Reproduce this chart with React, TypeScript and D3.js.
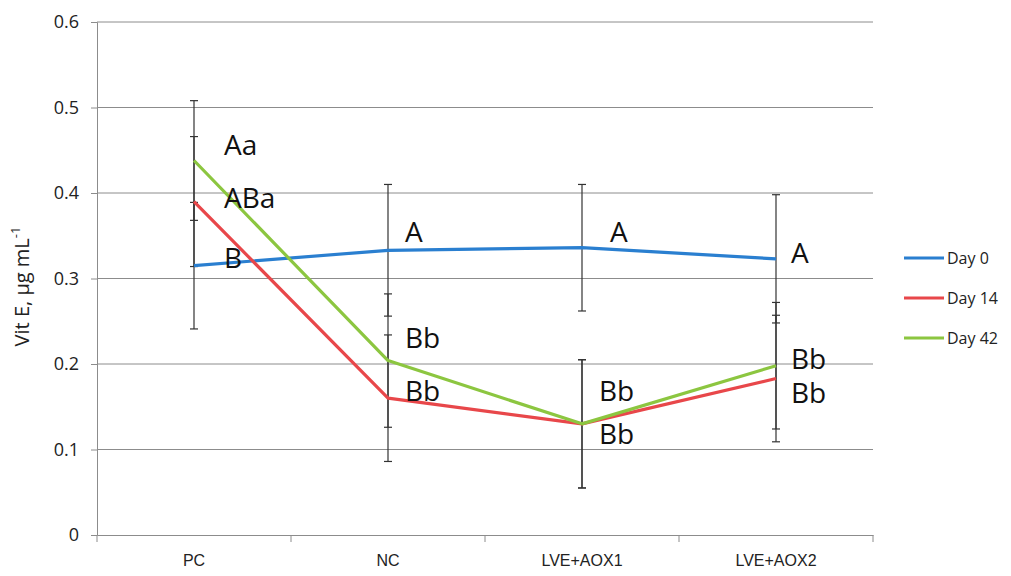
import { useEffect, useRef } from "react";
import * as d3 from "d3";

// categories and series
const categories = ["PC", "NC", "LVE+AOX1", "LVE+AOX2"];
const seriesNames = ["Day 0", "Day 14", "Day 42"];
const seriesColors = ["#2A7FD0", "#E8474A", "#8CC640"];
const day0 = [0.315, 0.333, 0.336, 0.323];
const day14 = [0.39, 0.16, 0.13, 0.183];
const day42 = [0.438, 0.204, 0.13, 0.198];
const err0 = [0.074, 0.077, 0.074, 0.075];
const err14 = [0.076, 0.074, 0.075, 0.074];
const err42 = [0.07, 0.078, 0.075, 0.074];
const yTicks = [0, 0.1, 0.2, 0.3, 0.4, 0.5, 0.6];

// significance letters: [text, category index, value at baseline]
const letters: [string, number, number][] = [
  ["Aa", 0, 0.445],
  ["ABa", 0, 0.383],
  ["B", 0, 0.312],
  ["A", 1, 0.343],
  ["Bb", 1, 0.219],
  ["Bb", 1, 0.157],
  ["A", 2, 0.343],
  ["Bb", 2, 0.157],
  ["Bb", 2, 0.107],
  ["A", 3, 0.318],
  ["Bb", 3, 0.194],
  ["Bb", 3, 0.154],
];
const letterDx = [30, 30, 30, 17, 17, 17, 28, 17, 17, 15, 15, 15];

const App = () => {
  const svgRef = useRef<SVGSVGElement | null>(null);

  useEffect(() => {
    const width = 1011;
    const height = 576;
    const margin = { top: 22, right: 138, bottom: 41, left: 97 };
    const svg = d3.select(svgRef.current);
    svg.selectAll("*").remove();

    const x = d3
      .scaleBand()
      .domain(categories)
      .range([margin.left, width - margin.right]);
    const y = d3
      .scaleLinear()
      .domain([0, 0.6])
      .range([height - margin.bottom, margin.top]);
    const cx = (i: number) => (x(categories[i]) as number) + x.bandwidth() / 2;

    const font = "'Open Sans', 'Noto Sans', sans-serif";
    const gridColor = "#8c8c8c";

    // gridlines
    svg
      .append("g")
      .selectAll("line")
      .data(yTicks.slice(1))
      .enter()
      .append("line")
      .attr("x1", margin.left)
      .attr("x2", width - margin.right)
      .attr("y1", (d) => y(d))
      .attr("y2", (d) => y(d))
      .attr("stroke", gridColor)
      .attr("stroke-width", 1);

    // y axis
    const yAxis = svg
      .append("g")
      .attr("transform", `translate(${margin.left},0)`)
      .call(
        d3
          .axisLeft(y)
          .tickValues(yTicks)
          .tickSize(6)
          .tickPadding(12)
          .tickFormat((d) => (d === 0 ? "0" : d3.format(".1f")(d as number)))
      );
    yAxis.select(".domain").attr("stroke", gridColor);
    yAxis.selectAll(".tick line").attr("stroke", gridColor);
    yAxis
      .selectAll("text")
      .attr("font-family", font)
      .attr("font-size", 18)
      .attr("fill", "#222");

    // x axis
    const xAxis = svg
      .append("g")
      .attr("transform", `translate(0,${height - margin.bottom})`)
      .call(d3.axisBottom(x).tickSize(0).tickPadding(20));
    xAxis.select(".domain").attr("stroke", gridColor);
    xAxis
      .selectAll("text")
      .attr("font-family", "'Liberation Sans Narrow', 'Liberation Sans', sans-serif")
      .attr("font-size", 16)
      .attr("fill", "#222");
    xAxis
      .selectAll(".sep")
      .data(d3.range(categories.length + 1))
      .enter()
      .append("line")
      .attr("x1", (i) => margin.left + i * x.bandwidth())
      .attr("x2", (i) => margin.left + i * x.bandwidth())
      .attr("y1", 0)
      .attr("y2", 7)
      .attr("stroke", gridColor);

    // y axis title
    const title = svg
      .append("text")
      .attr("transform", `translate(29,${(margin.top + height - margin.bottom) / 2 + 8}) rotate(-90)`)
      .attr("text-anchor", "middle")
      .attr("font-family", font)
      .attr("font-size", 20)
      .attr("fill", "#222");
    title.append("tspan").text("Vit E, µg mL");
    title.append("tspan").attr("dy", -9).attr("font-size", 13).text("-1");

    const seriesValues = [day0, day14, day42];
    const seriesErr = [err0, err14, err42];

    // error bars
    const errG = svg.append("g").attr("stroke", "#333").attr("stroke-width", 1.2);
    seriesValues.forEach((vals, s) => {
      vals.forEach((v, i) => {
        const e = seriesErr[s][i];
        const px = cx(i);
        errG
          .append("line")
          .attr("x1", px)
          .attr("x2", px)
          .attr("y1", y(v - e))
          .attr("y2", y(v + e));
        [v - e, v + e].forEach((c) => {
          errG
            .append("line")
            .attr("x1", px - 4)
            .attr("x2", px + 4)
            .attr("y1", y(c))
            .attr("y2", y(c));
        });
      });
    });

    // lines
    const line = d3
      .line<number>()
      .x((_, i) => cx(i))
      .y((d) => y(d));
    seriesValues.forEach((vals, s) => {
      svg
        .append("path")
        .datum(vals)
        .attr("d", line)
        .attr("fill", "none")
        .attr("stroke", seriesColors[s])
        .attr("stroke-width", 3.2)
        .attr("stroke-linejoin", "round");
    });

    // letters
    svg
      .append("g")
      .selectAll("text")
      .data(letters)
      .enter()
      .append("text")
      .attr("x", (d, k) => cx(d[1]) + letterDx[k])
      .attr("y", (d) => y(d[2]))
      .attr("font-family", font)
      .attr("font-size", 28)
      .attr("fill", "#111")
      .text((d) => d[0]);

    // legend
    const legend = svg.append("g").attr("transform", "translate(904,258)");
    seriesNames.forEach((name, s) => {
      const g = legend.append("g").attr("transform", `translate(0,${s * 40})`);
      g.append("line")
        .attr("x1", 0)
        .attr("x2", 40)
        .attr("stroke", seriesColors[s])
        .attr("stroke-width", 3.2);
      g.append("text")
        .attr("x", 43)
        .attr("y", 6)
        .attr("font-family", font)
        .attr("font-size", 16)
        .attr("fill", "#222")
        .text(name);
    });
  }, []);

  return (
    <svg
      ref={svgRef}
      width={1011}
      height={576}
      style={{ position: "absolute", left: 0, top: 0, background: "#fff" }}
    />
  );
};

export default App;
